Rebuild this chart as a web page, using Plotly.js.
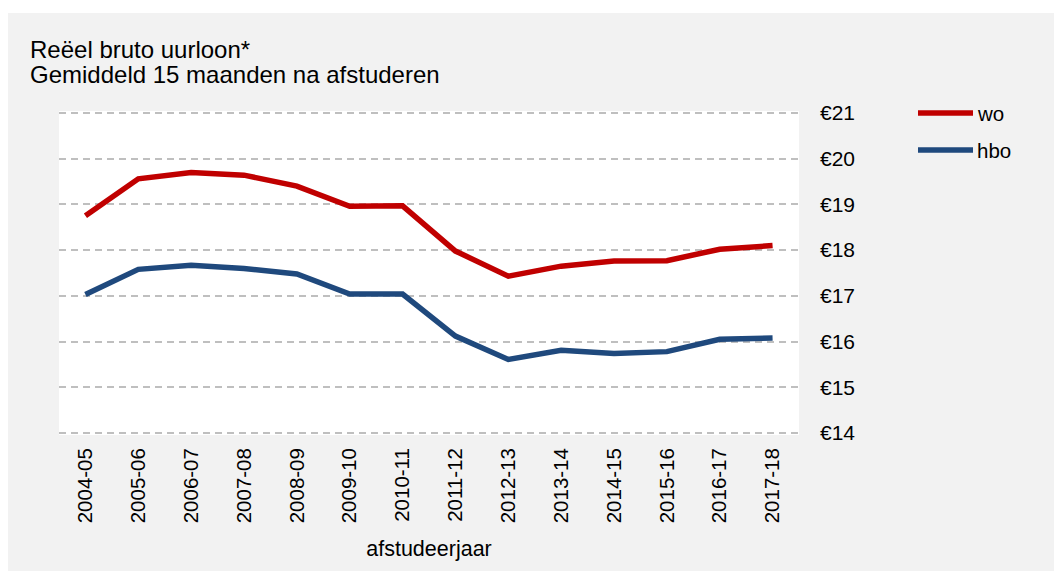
<!DOCTYPE html>
<html>
<head>
<meta charset="utf-8">
<script src="https://cdn.plot.ly/plotly-3.0.1.min.js"></script>
<style>
  html, body { margin: 0; padding: 0; background: #ffffff; }
  #chart { width: 1054px; height: 571px; }
</style>
</head>
<body>
<div id="chart"></div>
<script>
const categories = ["2004-05","2005-06","2006-07","2007-08","2008-09","2009-10","2010-11","2011-12","2012-13","2013-14","2014-15","2015-16","2016-17","2017-18"];
const woValues  = [18.75, 19.56, 19.70, 19.64, 19.40, 18.96, 18.97, 17.98, 17.43, 17.65, 17.76, 17.77, 18.02, 18.10];
const hboValues = [17.03, 17.58, 17.67, 17.60, 17.48, 17.04, 17.04, 16.12, 15.61, 15.81, 15.74, 15.78, 16.05, 16.08];
const seriesNames = ["wo", "hbo"];
const seriesColors = ["#C00000", "#1F497D"];
const titleLines = ["Reëel bruto uurloon*", "Gemiddeld 15 maanden na afstuderen"];
const xTitle = "afstudeerjaar";
const yMin = 14, yMax = 21;

const FONT = "Liberation Sans, Arial, sans-serif";

const traces = [
  { x: categories, y: woValues, name: seriesNames[0], type: "scatter", mode: "lines",
    line: { color: seriesColors[0], width: 5.5 }, showlegend: false, hoverinfo: "x+y" },
  { x: categories, y: hboValues, name: seriesNames[1], type: "scatter", mode: "lines",
    line: { color: seriesColors[1], width: 5.5 }, showlegend: false, hoverinfo: "x+y" }
];

// gridline €21 at y=113px, €14 at y=433px; plot area padded by 2px so edge gridlines show
const L = 59, R = 799, T = 111, B = 435;
const pxPerUnit = (433 - 113) / (yMax - yMin);
const padU = 2 / pxPerUnit;
const px2x = p => (p - L) / (R - L);
const py2y = p => (B - p) / (B - T);

const shapes = [
  // white outer strips (background panel starts at x=8, y=13)
  { type: "rect", xref: "paper", yref: "paper", layer: "above",
    x0: px2x(-5), x1: px2x(1060), y0: py2y(13), y1: py2y(-5),
    fillcolor: "#ffffff", line: { width: 0 } },
  { type: "rect", xref: "paper", yref: "paper", layer: "above",
    x0: px2x(-5), x1: px2x(8), y0: py2y(580), y1: py2y(-5),
    fillcolor: "#ffffff", line: { width: 0 } }
];
const annotations = [
  { xref: "paper", yref: "paper", x: px2x(28), y: py2y(49), xanchor: "left", yanchor: "middle",
    text: titleLines[0], showarrow: false, font: { family: FONT, size: 24, color: "#000000" } },
  { xref: "paper", yref: "paper", x: px2x(28), y: py2y(75), xanchor: "left", yanchor: "middle",
    text: titleLines[1], showarrow: false, font: { family: FONT, size: 24, color: "#000000" } }
];
const legendY = [113, 150];
seriesNames.forEach((n, i) => {
  shapes.push({ type: "line", xref: "paper", yref: "paper",
    x0: px2x(918), x1: px2x(973), y0: py2y(legendY[i]), y1: py2y(legendY[i]),
    line: { color: seriesColors[i], width: 5.5 } });
  annotations.push({ xref: "paper", yref: "paper", x: px2x(975), y: py2y(legendY[i]),
    xanchor: "left", yanchor: "middle", text: n, showarrow: false,
    font: { family: FONT, size: 20.5, color: "#000000" } });
});

const layout = {
  width: 1054, height: 571,
  margin: { l: L, r: 1054 - R, t: T, b: 571 - B, pad: 0 },
  paper_bgcolor: "#f2f2f2",
  plot_bgcolor: "#ffffff",
  font: { family: FONT, color: "#000000" },
  showlegend: false,
  xaxis: {
    type: "category", range: [-0.5, categories.length - 0.5], tickangle: -90,
    showgrid: false, zeroline: false, showline: false, ticks: "",
    tickfont: { family: FONT, size: 20.5, color: "#000000" },
    ticklabelstandoff: 8,
    title: { text: xTitle, font: { family: FONT, size: 21.5, color: "#000000" }, standoff: 18 },
    fixedrange: true
  },
  yaxis: {
    side: "right", range: [yMin - padU, yMax + padU], dtick: 1, tick0: yMin, tickprefix: "€",
    showgrid: true, gridcolor: "#bfbfbf", gridwidth: 2, griddash: "7px,5px",
    zeroline: false, showline: false, ticks: "",
    tickfont: { family: FONT, size: 21, color: "#000000" },
    ticklabelstandoff: 20,
    fixedrange: true
  },
  shapes: shapes,
  annotations: annotations
};

Plotly.newPlot("chart", traces, layout, { displayModeBar: false, staticPlot: true });
</script>
</body>
</html>
